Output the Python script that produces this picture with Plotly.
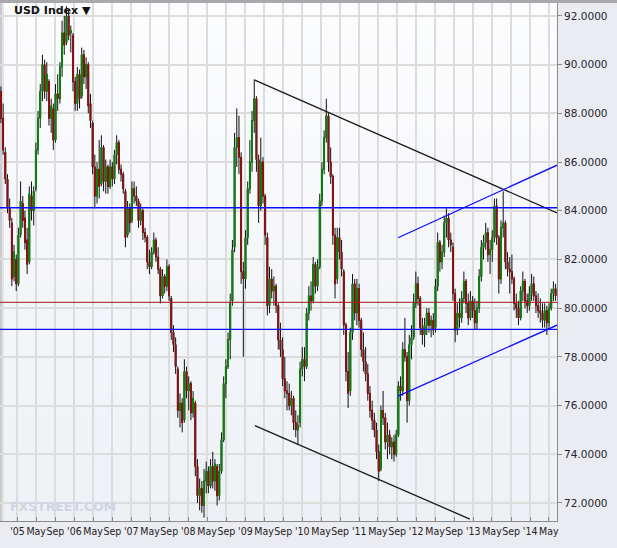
import plotly.graph_objects as go
import pandas as pd

# ---- data (USD Index, bi-weekly candles) ----
start_date = "2004-09-17"

open_ = [
    88.9, 87.8, 86.4, 85.3, 84.1, 83.5, 81.3, 82.0, 81.0, 83.0,
    84.3, 83.7, 82.8, 81.9, 84.6, 84.0, 84.9, 86.5, 87.8, 88.9,
    90.0, 88.9, 89.3, 87.8, 88.2, 86.9, 88.8, 88.6, 89.9, 91.3,
    90.9, 92.0, 91.3, 91.2, 89.3, 88.4, 89.6, 88.7, 90.4, 89.5,
    90.0, 88.4, 87.6, 85.8, 84.6, 85.7, 85.1, 86.6, 85.2, 85.8,
    85.0, 85.8, 85.3, 86.3, 86.8, 85.7, 85.5, 84.8, 83.0, 84.1,
    83.6, 84.9, 84.6, 84.4, 83.6, 84.0, 83.1, 82.9, 81.9, 81.7,
    82.3, 82.8, 82.1, 81.6, 80.5, 81.3, 80.9, 81.7, 80.4, 79.0,
    78.5, 77.5, 75.8, 76.1, 75.4, 77.4, 76.6, 76.9, 75.7, 76.1,
    73.5, 72.3, 72.6, 71.9, 72.9, 73.3, 72.7, 73.5, 72.9, 73.5,
    72.3, 73.3, 74.6, 76.9, 77.6, 78.7, 80.3, 82.5, 86.6, 87.0,
    86.2, 81.5, 81.2, 82.9, 84.9, 86.0, 87.7, 88.6, 86.1, 84.2,
    86.0, 84.6, 82.9, 80.1, 81.2, 80.7, 80.9, 80.1, 78.7, 78.3,
    77.1, 76.6, 76.5, 76.0, 76.3, 75.3, 75.0, 75.3, 77.5, 77.9,
    77.6, 79.8, 80.5, 80.3, 81.8, 80.9, 81.7, 84.4, 85.7, 87.0,
    87.9, 86.0, 85.4, 83.0, 81.2, 82.9, 82.3, 81.5, 79.3, 77.4,
    76.6, 79.0, 81.0, 79.8, 80.8, 79.5, 78.3, 77.8, 77.3, 76.5,
    75.8, 75.4, 75.0, 74.1, 73.4, 75.8, 75.5, 74.5, 74.8, 74.3,
    74.5, 74.0, 74.8, 76.8, 76.6, 78.3, 78.0, 76.2, 78.5, 78.8,
    80.2, 81.0, 80.4, 79.2, 78.9, 79.3, 79.8, 79.3, 79.5, 79.2,
    80.9, 82.7, 81.9, 82.3, 83.5, 83.7, 82.8, 82.5, 80.6, 79.1,
    79.8, 79.6, 80.4, 81.1, 80.2, 79.6, 80.3, 79.9, 79.4, 80.0,
    81.3, 82.5, 82.7, 83.1, 82.2, 82.4, 82.9, 84.2, 82.9, 81.2,
    83.3, 83.5, 81.9, 81.6, 81.5, 81.2, 80.2, 80.0, 79.6, 80.7,
    81.1, 80.3, 80.1, 80.6, 81.0, 80.5, 80.1, 79.9, 79.8, 79.5,
    79.9, 79.4, 80.0, 80.6, 80.8,
]

high_ = [
    89.1, 88.4, 86.6, 85.5, 84.5, 83.7, 82.6, 82.2, 83.3, 85.2,
    84.6, 84.0, 83.3, 85.0, 85.2, 85.0, 86.8, 88.1, 89.2, 90.4,
    90.2, 90.1, 89.4, 88.6, 88.4, 89.2, 89.6, 90.1, 91.8, 92.0,
    92.4, 92.2, 91.6, 91.3, 89.5, 89.9, 89.8, 90.7, 90.6, 90.3,
    90.1, 88.8, 87.7, 86.3, 86.0, 86.9, 87.1, 86.7, 86.1, 85.9,
    86.1, 86.0, 86.5, 87.1, 86.9, 85.9, 85.6, 84.9, 84.4, 84.3,
    85.2, 85.2, 85.0, 84.5, 84.3, 84.1, 83.3, 83.0, 82.4, 82.5,
    83.1, 82.9, 82.5, 81.7, 81.6, 81.4, 82.0, 81.8, 80.5, 79.3,
    78.8, 77.6, 76.5, 76.3, 77.9, 77.6, 77.2, 77.0, 76.6, 76.2,
    73.8, 73.0, 72.9, 73.4, 73.7, 73.5, 73.8, 74.1, 73.8, 73.6,
    73.6, 74.9, 77.2, 77.9, 79.0, 80.6, 82.8, 87.2, 88.2, 87.9,
    86.4, 81.9, 83.2, 85.2, 86.9, 88.1, 89.4, 88.7, 86.3, 87.0,
    86.2, 84.7, 83.1, 81.7, 81.6, 81.3, 81.0, 80.2, 79.4, 78.8,
    78.0, 77.0, 76.9, 76.6, 76.4, 75.8, 75.6, 77.8, 78.4, 78.4,
    80.0, 80.9, 81.1, 82.1, 81.9, 82.0, 84.7, 86.0, 87.3, 88.6,
    88.0, 86.6, 85.5, 83.3, 83.3, 83.3, 82.8, 81.6, 79.4, 78.2,
    79.2, 81.4, 81.2, 81.2, 81.0, 79.6, 79.0, 78.4, 77.7, 76.8,
    76.2, 75.7, 75.3, 74.4, 76.0, 76.6, 75.7, 75.3, 75.0, 74.7,
    74.8, 75.0, 77.0, 77.2, 78.6, 79.6, 78.2, 78.9, 79.3, 80.6,
    81.5, 81.3, 80.5, 79.6, 79.6, 80.0, 80.0, 79.7, 79.8, 81.2,
    83.1, 82.8, 82.6, 83.8, 84.1, 83.9, 83.1, 82.7, 80.8, 80.2,
    80.4, 80.7, 81.5, 81.2, 80.6, 80.7, 80.5, 80.4, 80.3, 81.6,
    82.8, 83.0, 83.5, 83.3, 82.8, 83.2, 84.5, 84.5, 83.0, 83.6,
    84.8, 83.6, 82.3, 82.1, 82.2, 81.3, 80.6, 80.3, 80.9, 81.5,
    81.2, 80.6, 80.9, 81.4, 81.3, 80.7, 80.6, 80.4, 80.2, 80.2,
    80.1, 80.2, 80.8, 81.1, 81.0,
]

low_ = [
    87.6, 86.3, 85.1, 83.9, 83.3, 80.9, 81.1, 80.7, 80.9, 82.9,
    83.3, 82.4, 81.4, 81.8, 83.6, 83.4, 84.8, 86.3, 87.4, 88.5,
    88.6, 88.5, 87.5, 87.2, 86.5, 86.8, 88.1, 88.4, 89.5, 90.4,
    90.8, 91.0, 90.5, 88.9, 88.1, 88.1, 88.2, 88.6, 89.2, 89.0,
    88.0, 87.4, 85.5, 84.1, 84.3, 84.5, 85.0, 84.8, 84.7, 84.7,
    84.9, 85.0, 85.1, 85.9, 85.5, 85.2, 84.7, 82.5, 82.9, 83.1,
    83.5, 84.3, 84.2, 83.3, 83.4, 82.8, 82.7, 81.6, 81.4, 81.6,
    82.2, 81.9, 81.4, 80.2, 80.4, 80.6, 80.7, 80.3, 78.7, 78.2,
    77.3, 75.5, 75.1, 74.9, 75.3, 76.3, 75.8, 75.4, 75.5, 73.1,
    72.0, 71.7, 71.6, 71.4, 72.4, 72.4, 72.6, 72.6, 72.5, 71.9,
    72.1, 73.2, 74.5, 76.3, 77.5, 77.9, 80.1, 82.3, 85.8, 85.5,
    81.0, 78.0, 80.8, 82.6, 84.7, 85.6, 87.2, 85.6, 83.5, 84.0,
    84.3, 82.6, 79.7, 79.8, 80.4, 80.1, 79.8, 78.3, 78.0, 76.8,
    76.3, 75.8, 75.8, 75.6, 75.0, 74.7, 74.4, 75.1, 77.2, 77.0,
    77.5, 79.5, 79.9, 80.2, 80.6, 80.7, 81.6, 84.2, 85.5, 86.8,
    85.6, 85.1, 82.6, 80.4, 81.0, 82.0, 81.3, 78.9, 77.0, 75.9,
    76.4, 78.7, 79.5, 79.3, 79.2, 78.0, 77.4, 77.0, 76.2, 75.5,
    75.0, 74.7, 73.8, 72.9, 73.3, 75.2, 74.2, 73.8, 74.0, 73.8,
    73.7, 73.9, 74.7, 76.2, 76.4, 77.8, 75.3, 76.0, 77.9, 78.7,
    80.0, 80.1, 78.9, 78.5, 78.4, 78.9, 79.0, 78.8, 78.9, 79.0,
    80.7, 81.5, 81.6, 82.1, 82.9, 82.5, 82.3, 80.3, 78.6, 78.9,
    79.2, 79.4, 80.2, 79.8, 79.3, 79.5, 79.6, 79.1, 79.1, 79.8,
    81.1, 82.0, 82.4, 81.9, 81.4, 81.9, 82.7, 82.6, 80.6, 81.0,
    82.9, 81.6, 81.3, 80.6, 81.0, 79.9, 79.6, 79.3, 79.5, 80.3,
    80.0, 79.8, 79.9, 80.3, 80.3, 79.8, 79.6, 79.4, 79.2, 79.2,
    78.9, 79.2, 79.9, 80.3, 80.3,
]

close_ = [
    87.8, 86.5, 85.3, 84.1, 83.6, 81.2, 82.3, 81.0, 83.0, 84.4,
    83.6, 82.7, 81.8, 84.7, 84.0, 84.8, 86.5, 87.8, 88.9, 90.0,
    88.9, 89.6, 87.8, 88.3, 86.9, 88.8, 88.6, 89.9, 91.3, 90.8,
    92.0, 91.2, 91.4, 89.3, 88.4, 89.6, 88.6, 90.4, 89.5, 90.0,
    88.3, 87.7, 85.8, 84.6, 85.7, 85.0, 86.6, 85.2, 85.8, 85.0,
    85.8, 85.3, 86.3, 86.8, 85.7, 85.5, 84.9, 82.9, 84.1, 83.5,
    84.9, 84.6, 84.4, 83.6, 84.0, 83.1, 82.9, 81.9, 81.7, 82.3,
    82.8, 82.1, 81.6, 80.5, 81.3, 80.9, 81.7, 80.5, 79.0, 78.5,
    77.6, 75.8, 76.1, 75.3, 77.4, 76.6, 76.9, 75.7, 76.3, 73.5,
    72.3, 72.6, 71.9, 72.9, 73.3, 72.7, 73.5, 72.9, 73.6, 72.3,
    73.3, 74.6, 76.9, 77.6, 78.7, 80.2, 82.4, 86.6, 87.0, 86.2,
    81.5, 81.2, 82.9, 84.9, 86.0, 87.7, 88.6, 86.1, 84.2, 86.0,
    84.6, 83.0, 80.1, 81.2, 80.7, 80.9, 80.1, 78.7, 78.3, 77.1,
    76.6, 76.5, 76.0, 76.3, 75.3, 75.0, 75.2, 77.5, 77.9, 77.6,
    79.8, 80.5, 80.3, 81.8, 80.9, 81.7, 84.4, 85.7, 87.0, 87.9,
    86.0, 85.4, 83.0, 81.0, 82.9, 82.3, 81.6, 79.3, 77.4, 76.5,
    79.0, 81.0, 79.8, 80.8, 79.5, 78.3, 77.8, 77.3, 76.5, 75.8,
    75.4, 75.0, 74.1, 73.3, 75.8, 75.5, 74.5, 74.8, 74.3, 74.5,
    74.0, 74.8, 76.8, 76.6, 78.3, 78.0, 76.2, 78.5, 78.8, 80.2,
    81.0, 80.4, 79.2, 78.9, 79.3, 79.8, 79.3, 79.5, 79.1, 80.9,
    82.7, 81.9, 82.3, 83.5, 83.7, 82.8, 82.6, 80.6, 79.1, 79.8,
    79.6, 80.4, 81.1, 80.2, 79.6, 80.3, 79.9, 79.4, 80.0, 81.3,
    82.5, 82.7, 83.1, 82.2, 82.4, 82.9, 84.2, 82.9, 81.2, 83.3,
    83.5, 81.9, 81.6, 81.5, 81.2, 80.2, 80.0, 79.6, 80.7, 81.1,
    80.3, 80.1, 80.6, 81.0, 80.5, 80.1, 79.9, 79.8, 79.5, 79.9,
    79.4, 80.0, 80.6, 80.8, 80.5,
]

# horizontal support / resistance levels
blue_levels = [84.12, 79.13]
red_levels = [80.24]

# trend lines (date, value)
black_upper_x = ["2009-03-03", "2014-06-22"]
black_upper_y = [89.36, 83.91]
black_lower_x = ["2009-03-03", "2012-12-10"]
black_lower_y = [75.18, 71.34]
blue_upper_x = ["2011-09-07", "2014-06-22"]
blue_upper_y = [82.89, 85.87]
blue_lower_x = ["2011-09-07", "2014-06-22"]
blue_lower_y = [76.39, 79.30]

# axis ticks
x_tickvals = []
x_ticktext = []
for yr in range(2005, 2015):
    for m, lab in ((1, "'%02d" % (yr % 100)), (5, "May"), (9, "Sep")):
        if yr == 2014 and m == 9:
            continue
        x_tickvals.append("%d-%02d-01" % (yr, m))
        x_ticktext.append(lab)
y_tickvals = [72, 74, 76, 78, 80, 82, 84, 86, 88, 90, 92]
y_ticktext = ["72.0000", "74.0000", "76.0000", "78.0000", "80.0000", "82.0000",
              "84.0000", "86.0000", "88.0000", "90.0000", "92.0000"]

# ---- build ----
n = min(len(open_), len(high_), len(low_), len(close_))
open_, high_, low_, close_ = open_[:n], high_[:n], low_[:n], close_[:n]
dates = pd.date_range(start_date, periods=n, freq="14D")
body_hi = [max(o, c) for o, c in zip(open_, close_)]
body_lo = [min(o, c) for o, c in zip(open_, close_)]

fig = go.Figure()

# black wicks
fig.add_trace(go.Candlestick(
    x=dates, open=open_, high=high_, low=low_, close=close_,
    increasing=dict(line=dict(color="#111111", width=1), fillcolor="#111111"),
    decreasing=dict(line=dict(color="#111111", width=1), fillcolor="#111111"),
    whiskerwidth=0, showlegend=False, hoverinfo="skip",
))
# coloured bodies
fig.add_trace(go.Candlestick(
    x=dates, open=open_, high=body_hi, low=body_lo, close=close_,
    increasing=dict(line=dict(color="#0a860a", width=1), fillcolor="#0a860a"),
    decreasing=dict(line=dict(color="#8e1212", width=1), fillcolor="#8e1212"),
    whiskerwidth=0, showlegend=False,
))

for xs, ys, col in ((black_upper_x, black_upper_y, "#1a1a1a"),
                    (black_lower_x, black_lower_y, "#1a1a1a"),
                    (blue_upper_x, blue_upper_y, "#0c0cff"),
                    (blue_lower_x, blue_lower_y, "#0c0cff")):
    fig.add_trace(go.Scatter(x=xs, y=ys, mode="lines",
                             line=dict(color=col, width=1.3),
                             showlegend=False, hoverinfo="skip"))

shapes = []
# plot background gradient (top light -> bottom slightly blue)
nb = 24
top_c = (251, 252, 254)
bot_c = (237, 241, 246)
for k in range(nb):
    f = k / (nb - 1)
    c = tuple(int(round(bot_c[j] + (top_c[j] - bot_c[j]) * f)) for j in range(3))
    shapes.append(dict(type="rect", xref="paper", yref="paper",
                       x0=0, x1=1, y0=k / nb, y1=(k + 1) / nb,
                       fillcolor="rgb(%d,%d,%d)" % c, line=dict(width=0),
                       layer="below"))
for lv in blue_levels:
    shapes.append(dict(type="line", xref="paper", yref="y", x0=0, x1=1,
                       y0=lv, y1=lv, line=dict(color="#0c0cff", width=1.4)))
for lv in red_levels:
    shapes.append(dict(type="line", xref="paper", yref="y", x0=0, x1=1,
                       y0=lv, y1=lv, line=dict(color="#a01818", width=1)))
# frame shadows
shapes.append(dict(type="rect", xref="paper", yref="paper",
                   x0=0, x1=1.108, y0=1.0, y1=1.0 + 3 / 519,
                   fillcolor="#a9a9ad", line=dict(width=0)))
shapes.append(dict(type="rect", xref="paper", yref="paper",
                   x0=0, x1=2 / 557, y0=0, y1=1,
                   fillcolor="#c9c9ce", line=dict(width=0), layer="below"))
shapes.append(dict(type="rect", xref="paper", yref="paper",
                   x0=2 / 557, x1=4 / 557, y0=0, y1=1,
                   fillcolor="#e4e4e8", line=dict(width=0), layer="below"))

fig.update_layout(
    template="none",
    width=617, height=548,
    margin=dict(l=0, r=60, t=3, b=27, autoexpand=False),
    paper_bgcolor="#ebecf2",
    plot_bgcolor="#f6f8fb",
    shapes=shapes,
    showlegend=False,
    boxgap=0.45,
    font=dict(family="DejaVu Sans, Verdana, sans-serif", color="#222222"),
    xaxis=dict(
        type="date",
        automargin=False,
        range=["2004-09-11", "2014-06-22"],
        rangeslider=dict(visible=False),
        tickmode="array", tickvals=x_tickvals, ticktext=x_ticktext,
        tickangle=0,
        showgrid=True, gridcolor="#dcdcdc", gridwidth=1.5,
        showline=True, linecolor="#8a8a8a", linewidth=1,
        ticks="inside", ticklen=4, tickcolor="#8a8a8a",
        tickfont=dict(family="DejaVu Sans Condensed, DejaVu Sans, sans-serif",
                      size=10.5, color="#222222"),
        zeroline=False, fixedrange=True,
    ),
    yaxis=dict(
        side="right",
        automargin=False,
        range=[71.26, 92.53],
        tickmode="array", tickvals=y_tickvals, ticktext=y_ticktext,
        showgrid=True, gridcolor="#dcdcdc", gridwidth=1.5,
        showline=True, linecolor="#8a8a8a", linewidth=1,
        ticks="outside", ticklen=4, tickcolor="#8a8a8a",
        tickfont=dict(family="DejaVu Sans, sans-serif", size=10.5, color="#1e2533"),
        zeroline=False, fixedrange=True,
    ),
    annotations=[
        dict(text="<b>USD Index \u25BC</b>", xref="paper", yref="paper",
             x=12 / 557, y=1 - 8 / 519, xanchor="left", yanchor="middle",
             showarrow=False,
             font=dict(family="DejaVu Sans, Verdana, sans-serif", size=11, color="#111111")),
        dict(text="<b>FXSTREET.COM</b>", xref="paper", yref="paper",
             x=8 / 557, y=15 / 519, xanchor="left", yanchor="middle",
             showarrow=False,
             font=dict(family="DejaVu Sans, sans-serif", size=12.5, color="#cfd5e4")),
    ],
)

fig.write_html(
    "out.html",
    config={"displayModeBar": False},
    post_script="document.body.style.margin='0';document.body.style.overflow='hidden';",
)
